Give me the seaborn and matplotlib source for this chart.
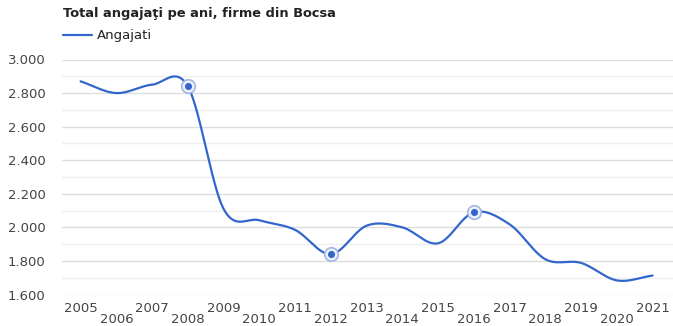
import numpy as np
import pandas as pd
import matplotlib
matplotlib.use("Agg")
import matplotlib.pyplot as plt
import seaborn as sns
from matplotlib.ticker import FixedLocator, FixedFormatter, MultipleLocator

# Employees per year
years = list(range(2005, 2022))
angajati = [2870, 2800, 2850, 2840, 2110, 2042, 1985, 1840, 2010, 2000,
            1905, 2090, 2018, 1810, 1788, 1684, 1713]
highlight_years = [2008, 2012, 2016]
y_ticks = [1600, 1800, 2000, 2200, 2400, 2600, 2800, 3000]
y_tick_labels = ["1.600", "1.800", "2.000", "2.200", "2.400", "2.600", "2.800", "3.000"]
title = "Total angajaţi pe ani, firme din Bocsa"
series_name = "Angajati"

LINE = "#3366cc"
TEXT = "#444444"


def smooth_curve(xs, ys, steps=40):
    """Catmull-Rom spline through the points (uniform spacing)."""
    xs = np.asarray(xs, float)
    ys = np.asarray(ys, float)
    n = len(ys)
    m = np.empty(n)
    m[1:-1] = (ys[2:] - ys[:-2]) / 2.0
    m[0] = ys[1] - ys[0]
    m[-1] = ys[-1] - ys[-2]
    out_x, out_y = [], []
    for i in range(n - 1):
        t = np.linspace(0, 1, steps, endpoint=(i == n - 2))
        h00 = 2 * t**3 - 3 * t**2 + 1
        h10 = t**3 - 2 * t**2 + t
        h01 = -2 * t**3 + 3 * t**2
        h11 = t**3 - t**2
        dx = xs[i + 1] - xs[i]
        out_y.append(h00 * ys[i] + h10 * m[i] + h01 * ys[i + 1] + h11 * m[i + 1])
        out_x.append(xs[i] + t * dx)
    return np.concatenate(out_x), np.concatenate(out_y)


sns.set_theme(style="white")
plt.rcParams["font.family"] = ["DejaVu Sans"]

fig = plt.figure(figsize=(6.73, 3.26), dpi=100)
ax = fig.add_axes([62 / 673, (326 - 294.5) / 326, 1 - 62 / 673, (294.5 - 59.5) / 326])

cx, cy = smooth_curve(years, angajati)
curve = pd.DataFrame({"an": cx, "angajati": cy})
sns.lineplot(data=curve, x="an", y="angajati", ax=ax, color=LINE,
             linewidth=1.6, sort=False, zorder=3)

df = pd.DataFrame({"an": years, "angajati": angajati})
hl = df[df["an"].isin(highlight_years)]
sns.scatterplot(data=hl, x="an", y="angajati", ax=ax, s=95, color="#edf1fb",
                edgecolor="#a3b8e4", linewidth=1.2, zorder=4, legend=False)
sns.scatterplot(data=hl, x="an", y="angajati", ax=ax, s=26, color=LINE,
                edgecolor=LINE, linewidth=0, zorder=5, legend=False)

ax.set_xlim(2004.48, 2021.57)
ax.set_ylim(1600, 3000)

# Gridlines: labelled every 200, lighter every 100
ax.yaxis.set_major_locator(FixedLocator(y_ticks))
ax.yaxis.set_major_formatter(FixedFormatter(y_tick_labels))
ax.yaxis.set_minor_locator(MultipleLocator(100))
ax.grid(axis="y", which="major", color="#dddddd", linewidth=1.0, zorder=0)
ax.grid(axis="y", which="minor", color="#efefef", linewidth=1.0, zorder=0)
ax.grid(axis="x", visible=False)

# Staggered year labels
odd_years = [y for y in years if y % 2 == 1]
even_years = [y for y in years if y % 2 == 0]
ax.xaxis.set_major_locator(FixedLocator(odd_years))
ax.xaxis.set_major_formatter(FixedFormatter([str(y) for y in odd_years]))
ax.xaxis.set_minor_locator(FixedLocator(even_years))
ax.xaxis.set_minor_formatter(FixedFormatter([str(y) for y in even_years]))
ax.tick_params(axis="x", which="major", length=0, pad=5.2, labelsize=9.5, labelcolor=TEXT)
ax.tick_params(axis="x", which="minor", length=0, pad=13.6, labelsize=9.5, labelcolor=TEXT)
ax.tick_params(axis="y", which="both", length=0, pad=11.7, labelsize=9.5, labelcolor=TEXT)

ax.set_xlabel("")
ax.set_ylabel("")
for side in ax.spines.values():
    side.set_visible(False)

# Title and legend above the plot
fig.text(63 / 673, 1 - 14 / 326, title, fontsize=9.4, fontweight="bold",
         color="#222222", ha="left", va="center")
fig.add_artist(plt.Line2D([63 / 673, 92 / 673], [1 - 35 / 326, 1 - 35 / 326],
                          color=LINE, linewidth=1.6))
fig.text(97 / 673, 1 - 35 / 326, series_name, fontsize=9.5, color="#222222",
         ha="left", va="center")

fig.savefig("out.png", dpi=100)
